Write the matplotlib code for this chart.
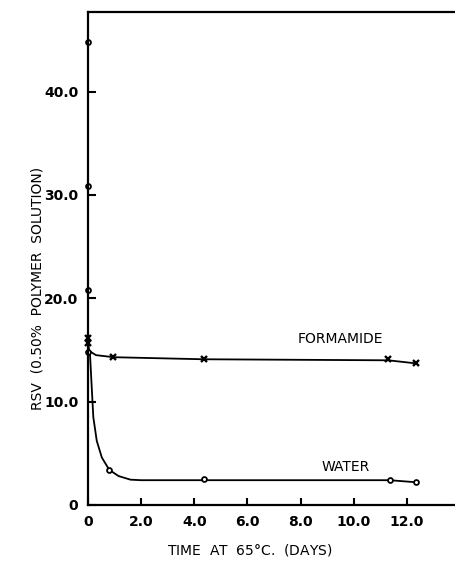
import numpy as np
import matplotlib.pyplot as plt

# measured points (days, RSV)
water_t = [0, 0, 0, 0, 0.8, 4.35, 11.35, 12.35]
water_rsv = [44.8, 30.9, 20.8, 14.8, 3.4, 2.5, 2.4, 2.2]
form_t = [0, 0, 0.95, 4.35, 11.3, 12.35]
form_rsv = [15.7, 16.2, 14.3, 14.1, 14.1, 13.7]

# hand-drawn smoothing curves through the points
water_curve_t = [0, 0, 0.075, 0.14, 0.2, 0.33, 0.52, 0.8, 1.15, 1.6, 2.0, 4.35, 11.35, 12.35]
water_curve_rsv = [44.8, 15.0, 14.6, 11.4, 8.5, 6.2, 4.6, 3.4, 2.8, 2.45, 2.4, 2.4, 2.4, 2.2]
form_curve_t = [0, 0.05, 0.3, 0.8, 0.95, 4.35, 11.3, 12.35]
form_curve_rsv = [15.7, 14.9, 14.5, 14.35, 14.3, 14.1, 14.0, 13.7]

xticks = [0, 2, 4, 6, 8, 10, 12]
xticklabels = ['0', '2.0', '4.0', '6.0', '8.0', '10.0', '12.0']
yticks = [0, 10, 20, 30, 40]
yticklabels = ['0', '10.0', '20.0', '30.0', '40.0']

plt.rcParams['font.family'] = 'DejaVu Sans'
plt.rcParams['font.weight'] = 'bold'

fig = plt.figure(figsize=(4.56, 5.64), dpi=100)
ax = fig.add_axes([88 / 456, 1 - 505 / 564, 1 - 88 / 456, 493 / 564])

ax.plot(water_curve_t, water_curve_rsv, color='black', lw=1.3, clip_on=False)
ax.plot(form_curve_t, form_curve_rsv, color='black', lw=1.3, clip_on=False)
ax.plot(water_t, water_rsv, 'o', ms=3.5, mfc='white', mec='black', mew=1.3, clip_on=False)
ax.plot(form_t, form_rsv, 'x', ms=4.5, color='black', mew=1.7, clip_on=False)

ax.text(9.5, 16.1, 'FORMAMIDE', fontsize=10, fontweight='normal', ha='center', va='center')
ax.text(9.7, 3.7, 'WATER', fontsize=10, fontweight='normal', ha='center', va='center')

ax.set_xlim(0, 13.85)
ax.set_ylim(0, 47.7)
ax.set_xticks(xticks)
ax.set_xticklabels(xticklabels)
ax.set_yticks(yticks)
ax.set_yticklabels(yticklabels)
ax.tick_params(direction='in', length=6, width=1.5, labelsize=10, pad=7)
ax.tick_params(axis='x', length=5, pad=7)

ax.spines['right'].set_visible(False)
for s in ['left', 'top', 'bottom']:
    ax.spines[s].set_linewidth(1.6)

ax.set_xlabel('TIME  AT  65$\\degree$C.  (DAYS)', fontsize=10, fontweight='normal')
ax.set_ylabel('RSV  (0.50%  POLYMER  SOLUTION)', fontsize=10, fontweight='normal')
ax.xaxis.set_label_coords(0.44, -0.076)
ax.yaxis.set_label_coords(-0.117, 0.44)

fig.savefig('out.png', dpi=100)
